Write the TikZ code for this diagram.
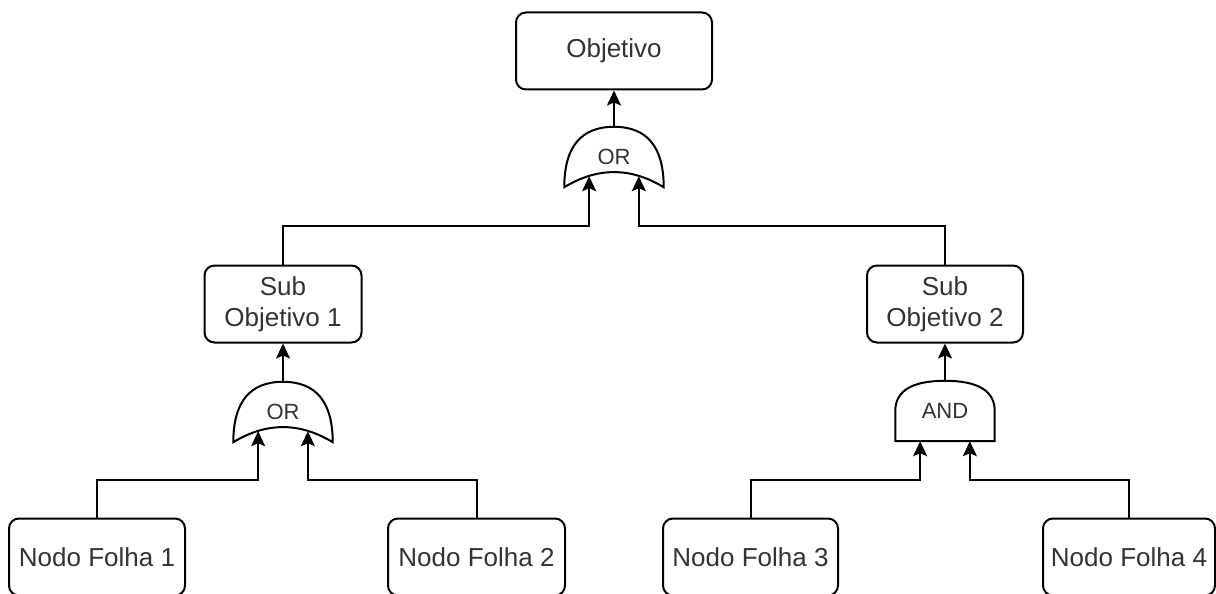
\documentclass[tikz,border=0pt]{standalone}
\usepackage{fontspec}
\setmainfont{Liberation Sans}
\usepackage{tikz}
\usetikzlibrary{arrows.meta,calc}
\definecolor{InkGray}{HTML}{333333}

% OR gate outline (pointing up) drawn over a gate node
\newcommand{\orshape}[1]{%
  \draw[gateline] (#1.south west)
    .. controls ($(#1.south west)!2/3!(#1.north west)$) and ($(#1.north)!2/3!(#1.north west)$) .. (#1.north)
    .. controls ($(#1.north)!2/3!(#1.north east)$) and ($(#1.south east)!2/3!(#1.north east)$) .. (#1.south east)
    .. controls ($(#1.south east)!2/3!(#1.center)$) and ($(#1.south west)!2/3!(#1.center)$) .. (#1.south west) -- cycle;}
% AND gate outline (pointing up)
\newcommand{\andshape}[1]{%
  \draw[gateline] (#1.south west) -- (#1.west)
    .. controls ($(#1.west)!2/3!(#1.north west)$) and ($(#1.north)!2/3!(#1.north west)$) .. (#1.north)
    .. controls ($(#1.north)!2/3!(#1.north east)$) and ($(#1.east)!2/3!(#1.north east)$) .. (#1.east)
    -- (#1.south east) -- cycle;}

\begin{document}
\begin{tikzpicture}[
  x=1pt,y=-1pt,
  box/.style={draw=black,fill=white,rounded corners=10pt,line width=2pt,minimum height=77pt,align=center,
    text=InkGray,font=\fontsize{26}{31}\selectfont,inner sep=0pt},
  gate/.style={minimum width=99pt,minimum height=60pt,inner sep=0pt,text=InkGray,font=\fontsize{22}{26}\selectfont},
  gateline/.style={draw=black,fill=white,line width=2pt},
  arr/.style={-{Stealth[length=15pt,width=14pt,inset=3pt]},draw=black,line width=2pt}
]
\useasboundingbox (0,0) rectangle (1216,594);
\clip (0,0) rectangle (1216,594);

% bus levels of the orthogonal connectors
\coordinate (topbus) at (0,226);
\coordinate (lowbus) at (0,480);

\node[box,minimum width=196pt] (goal) at (614,51) {Objetivo};
\node[box,minimum width=157pt] (sub1) at (283,304) {Sub\\Objetivo 1};
\node[box,minimum width=156pt] (sub2) at (945,304) {Sub\\Objetivo 2};
\node[box,minimum width=176pt] (leaf1) at (97,557) {Nodo Folha 1};
\node[box,minimum width=177pt] (leaf2) at (476.5,557) {Nodo Folha 2};
\node[box,minimum width=175pt] (leaf3) at (750.5,557) {Nodo Folha 3};
\node[box,minimum width=172pt] (leaf4) at (1129,557) {Nodo Folha 4};

% gates
\node[gate] (orTop) at (614,157) {};
\node[gate] (orLeft) at (283,412) {};
\node[gate] (andRight) at (945,411) {};
\orshape{orTop}
\orshape{orLeft}
\andshape{andRight}
\node[gate] at (orTop) {OR};
\node[gate] at (orLeft) {OR};
\node[gate] at (andRight) {AND};

% gate inputs
\coordinate (orTop-a) at ($(orTop.south west)!.25!(orTop.south east)+(0,-11)$);
\coordinate (orTop-b) at ($(orTop.south west)!.75!(orTop.south east)+(0,-11)$);
\coordinate (orLeft-a) at ($(orLeft.south west)!.25!(orLeft.south east)+(0,-11)$);
\coordinate (orLeft-b) at ($(orLeft.south west)!.75!(orLeft.south east)+(0,-11)$);
\coordinate (andRight-a) at ($(andRight.south west)!.25!(andRight.south east)$);
\coordinate (andRight-b) at ($(andRight.south west)!.75!(andRight.south east)$);

\draw[arr] (orTop.north) -- (goal.south);
\draw[arr] (orLeft.north) -- (sub1.south);
\draw[arr] (andRight.north) -- (sub2.south);
\draw[arr] (sub1.north) -- (sub1.north |- topbus) -| (orTop-a);
\draw[arr] (sub2.north) -- (sub2.north |- topbus) -| (orTop-b);
\draw[arr] (leaf1.north) -- (leaf1.north |- lowbus) -| (orLeft-a);
\draw[arr] (leaf2.north) -- (leaf2.north |- lowbus) -| (orLeft-b);
\draw[arr] (leaf3.north) -- (leaf3.north |- lowbus) -| (andRight-a);
\draw[arr] (leaf4.north) -- (leaf4.north |- lowbus) -| (andRight-b);
\end{tikzpicture}
\end{document}
